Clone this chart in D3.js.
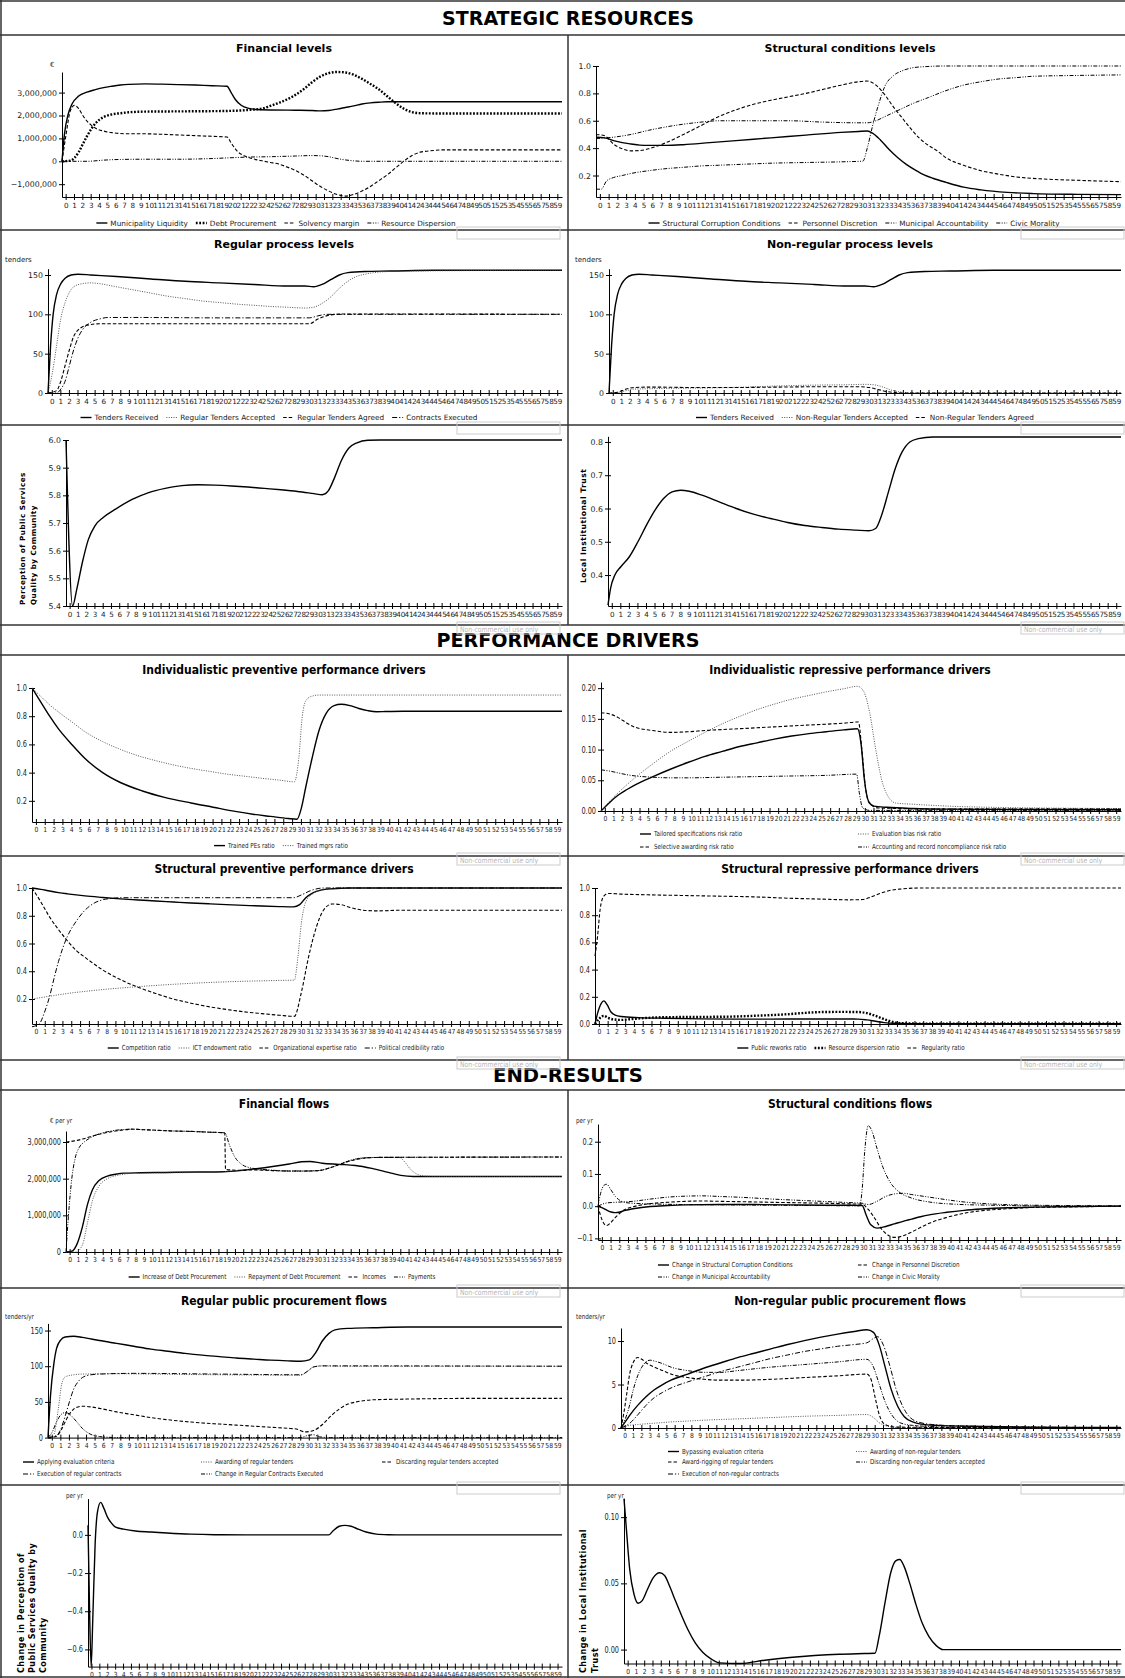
<!DOCTYPE html>
<html>
<head>
<meta charset="utf-8">
<script src="https://cdn.jsdelivr.net/npm/d3@7"></script>
<style>
body { margin: 0; background: #fff; }
svg { display: block; font-family: "DejaVu Sans", Verdana, sans-serif; }
</style>
</head>
<body>
<script>
// period labels on every x axis
var periods = [0,1,2,3,4,5,6,7,8,9,10,11,12,13,14,15,16,17,18,19,20,21,22,23,24,25,26,27,28,29,
  30,31,32,33,34,35,36,37,38,39,40,41,42,43,44,45,46,47,48,49,50,51,52,53,54,55,56,57,58,59];

// ---- STRATEGIC RESOURCES ----
// financial levels, millions of euro, [time, value]
var liquidity = [[0,0],[0.3,1.2],[0.7,2.0],[1.2,2.5],[2,2.85],[3,3.02],[4,3.13],[5,3.22],[6,3.28],[7,3.33],[8,3.36],[10,3.38],[12,3.37],[14,3.35],[16,3.33],[18,3.3],[19.8,3.28],[20.3,3.0],[20.8,2.7],[21.5,2.45],[22.3,2.32],[23.5,2.26],[25,2.24],[28,2.23],[30,2.22],[31,2.2],[32,2.22],[33,2.28],[34,2.35],[35,2.42],[36,2.5],[37,2.55],[38,2.58],[39,2.6],[40,2.6],[60,2.6]];
var debtProc = [[0,0],[1,0.03],[1.5,0.15],[2,0.4],[2.5,0.75],[3,1.1],[3.5,1.4],[4,1.65],[4.5,1.82],[5,1.93],[6,2.05],[7,2.1],[8,2.14],[10,2.17],[14,2.18],[18,2.19],[20,2.2],[22,2.23],[23,2.26],[24,2.3],[25,2.42],[26,2.55],[27,2.7],[28,2.9],[29,3.15],[30,3.45],[31,3.7],[32,3.85],[33,3.9],[34,3.88],[35,3.78],[36,3.6],[37,3.38],[38,3.15],[39,2.85],[40,2.55],[41,2.3],[42,2.15],[43,2.1],[45,2.09],[60,2.09]];
var solvency = [[0,0],[0.5,1.2],[1,2.2],[1.5,2.45],[2,2.3],[2.5,2.0],[3,1.75],[3.5,1.58],[4,1.45],[5,1.32],[6,1.25],[8,1.2],[10,1.2],[12,1.18],[14,1.15],[16,1.12],[18,1.09],[19.8,1.06],[20.3,0.8],[21,0.45],[22,0.22],[23,0.1],[24,0.02],[25,-0.05],[26,-0.12],[27,-0.25],[28,-0.4],[29,-0.6],[30,-0.85],[31,-1.1],[32,-1.3],[33,-1.45],[34,-1.52],[35,-1.45],[36,-1.3],[37,-1.1],[38,-0.85],[39,-0.6],[40,-0.3],[41,0.0],[42,0.25],[43,0.4],[44,0.45],[46,0.5],[60,0.5]];
var resDispersion = [[0,0],[3,0],[5,0.05],[7,0.08],[10,0.09],[14,0.09],[18,0.12],[20,0.15],[22,0.18],[25,0.2],[28,0.23],[30,0.25],[31,0.24],[32,0.2],[33,0.12],[34,0.06],[35,0.02],[36,0],[60,0]];

// structural conditions levels
var corruption = [[0,0.48],[1,0.475],[2,0.455],[3,0.44],[4,0.43],[5,0.422],[6,0.42],[8,0.42],[10,0.425],[13,0.44],[16,0.455],[20,0.475],[24,0.495],[28,0.515],[30,0.522],[31,0.525],[31.6,0.51],[32.5,0.46],[33.5,0.39],[34.5,0.33],[35.5,0.28],[36.5,0.24],[37.5,0.205],[38.5,0.18],[40,0.15],[42,0.115],[44,0.095],[47,0.077],[50,0.068],[55,0.062],[60,0.06]];
var discretion = [[0,0.5],[1,0.49],[2,0.43],[3,0.395],[4,0.38],[5,0.382],[6,0.395],[7,0.415],[8,0.44],[10,0.5],[12,0.565],[14,0.63],[16,0.68],[18,0.72],[20,0.75],[22,0.775],[24,0.8],[26,0.83],[28,0.86],[30,0.885],[31,0.89],[32,0.86],[33,0.79],[34,0.7],[35,0.62],[36,0.54],[37,0.47],[38,0.42],[39,0.38],[40,0.33],[42,0.275],[44,0.235],[46,0.21],[48,0.19],[51,0.175],[55,0.165],[60,0.155]];
var accountability = [[0,0.47],[2,0.48],[4,0.5],[6,0.53],[8,0.555],[10,0.575],[12,0.59],[14,0.6],[18,0.6],[22,0.6],[26,0.59],[30,0.585],[31,0.585],[32,0.6],[33,0.63],[34,0.66],[35,0.69],[36,0.72],[38,0.77],[40,0.82],[42,0.86],[44,0.885],[46,0.905],[48,0.915],[50,0.925],[54,0.93],[60,0.935]];
var morality = [[0,0.1],[0.6,0.1],[1.2,0.16],[2,0.185],[3,0.2],[4,0.215],[6,0.235],[8,0.25],[10,0.26],[12,0.27],[14,0.275],[16,0.28],[18,0.285],[20,0.29],[24,0.295],[28,0.3],[30.5,0.305],[31,0.4],[31.6,0.56],[32.3,0.72],[33,0.85],[34,0.93],[35,0.965],[36,0.985],[37.5,0.995],[40,1.0],[60,1.0]];

// process levels, tenders
var tendersReceived = [[0,0],[0.3,60],[0.6,100],[1,125],[1.5,139],[2,146],[2.7,150],[3.5,151],[5,150],[8,148],[12,145],[16,142],[20,140],[24,138],[28,136],[30,136],[31,135],[32,138],[33,144],[34,150],[35,153],[37,154.5],[40,155],[45,156],[60,156]];
var regAccepted = [[0,0],[0.5,25],[1,60],[1.5,95],[2,115],[2.5,128],[3,135],[4,139],[5,140],[6,139],[8,135],[10,131],[12,127],[14,123],[16,120],[18,117],[20,115],[22,113],[24,111.5],[26,110],[28,109],[30,108],[31,109],[32,114],[33,122],[34,133],[35,142],[36,148],[37,151],[39,154],[42,155],[60,156]];
var regAgreed = [[0,0],[1,3],[1.5,15],[2,35],[2.5,55],[3,72],[3.5,80],[4,84],[5,87],[6,88],[10,88],[20,88],[29,88],[30.5,88],[31.5,94],[32.5,98],[33.5,100],[35,100.5],[60,100]];
var contractsExec = [[0,0],[1,0],[1.5,5],[2,15],[2.5,35],[3,55],[3.5,70],[4,80],[5,90],[6,94],[7,96],[10,96],[20,95.5],[30.5,95.5],[31.5,98],[32.5,100],[60,100]];
var nrAccepted = [[0,0],[1,0.5],[2,3],[3,5],[5,5.5],[8,6],[12,6.5],[16,7.5],[20,9],[24,10],[28,10.5],[30,11],[31,10.5],[32,8],[33,4],[34,1.5],[35,0.5],[36,0],[60,0]];
var nrAgreed = [[0,0],[1,1],[2,5],[3,7],[5,7.5],[10,7],[15,7],[20,7.5],[25,8],[29,8],[30.5,7],[31.5,4.5],[32.5,2],[33.5,0.5],[35,0],[60,0]];

// perception and trust
var perception = [[0,6.0],[0.8,5.4],[1.3,5.46],[2,5.56],[2.7,5.64],[3.5,5.69],[4.5,5.72],[6,5.75],[8,5.785],[10,5.81],[12,5.825],[14,5.835],[16,5.838],[18,5.837],[20,5.834],[22,5.83],[24,5.825],[26,5.82],[28,5.814],[30,5.806],[31,5.802],[31.7,5.815],[32.5,5.865],[33.3,5.925],[34.2,5.97],[35.2,5.99],[36.5,5.999],[38,6.0],[60,6.0]];
var trust = [[0,0.31],[0.3,0.36],[0.8,0.4],[1.5,0.425],[2.5,0.455],[3.5,0.5],[4.5,0.55],[5.5,0.595],[6.5,0.63],[7.5,0.65],[8.5,0.655],[9.5,0.652],[11,0.64],[13,0.62],[15,0.6],[17,0.583],[19,0.57],[21,0.558],[23,0.549],[25,0.543],[27,0.538],[29,0.535],[30.5,0.533],[31.3,0.54],[32,0.58],[32.8,0.65],[33.6,0.72],[34.4,0.77],[35.3,0.8],[36.3,0.81],[38,0.815],[60,0.815]];

// ---- PERFORMANCE DRIVERS ----
var trainedPEs = [[0,1.0],[1,0.9],[2,0.8],[3,0.71],[4.5,0.6],[6,0.5],[8,0.4],[10,0.33],[12.5,0.27],[15,0.225],[18,0.185],[20.5,0.155],[23,0.125],[25,0.105],[27,0.09],[29,0.075],[30,0.07],[30.5,0.15],[31,0.3],[31.7,0.5],[32.5,0.7],[33.3,0.82],[34.2,0.875],[35,0.885],[36,0.875],[37,0.855],[38,0.84],[39,0.832],[40,0.833],[42,0.835],[60,0.835]];
var trainedMgrs = [[0,1.0],[1,0.94],[2,0.88],[3,0.83],[4.5,0.76],[6,0.69],[8,0.62],[10,0.565],[12,0.52],[14,0.485],[16,0.455],[18,0.43],[20,0.41],[22,0.39],[24,0.375],[26,0.36],[28,0.347],[29.7,0.335],[30.2,0.5],[30.6,0.8],[31,0.91],[31.6,0.94],[32.5,0.95],[60,0.95]];
var tailored = [[0,0],[1,0.014],[2,0.026],[3,0.035],[4,0.043],[6,0.056],[8,0.068],[10,0.079],[12,0.089],[14,0.097],[16,0.105],[18,0.111],[20,0.117],[22,0.122],[24,0.126],[26,0.129],[28,0.132],[29.6,0.134],[30,0.11],[30.4,0.05],[30.9,0.015],[31.5,0.008],[33,0.006],[36,0.004],[40,0.003],[60,0.002]];
var evalBias = [[0,0],[1,0.016],[2,0.03],[4,0.055],[6,0.077],[8,0.097],[10,0.113],[12,0.128],[14,0.142],[16,0.154],[18,0.165],[20,0.174],[22,0.182],[24,0.188],[26,0.194],[28,0.199],[29.6,0.203],[30.3,0.195],[31,0.16],[31.7,0.1],[32.4,0.05],[33.2,0.022],[34,0.013],[36,0.011],[40,0.008],[45,0.006],[60,0.004]];
var selectiveAw = [[0,0.16],[1,0.158],[2,0.152],[3,0.143],[4,0.136],[6,0.131],[8,0.128],[10,0.129],[12,0.131],[16,0.134],[20,0.137],[24,0.14],[28,0.143],[29.7,0.145],[30.1,0.1],[30.5,0.04],[31,0.012],[32,0.005],[40,0.003],[60,0.003]];
var accountingNc = [[0,0.067],[1,0.065],[2,0.062],[3,0.059],[4,0.057],[6,0.055],[8,0.054],[10,0.054],[14,0.055],[18,0.056],[22,0.057],[26,0.058],[29.5,0.06],[29.8,0.03],[30.2,0.005],[31,0.001],[60,0.001]];
var competition = [[0,1.0],[1,0.99],[2,0.978],[3,0.967],[4,0.958],[6,0.943],[8,0.932],[10,0.922],[12,0.914],[14,0.906],[16,0.899],[18,0.892],[20,0.886],[22,0.88],[24,0.875],[26,0.87],[28,0.866],[29.6,0.864],[30.3,0.88],[31,0.93],[31.8,0.965],[32.7,0.985],[34,0.995],[36,1.0],[60,1.0]];
var ictEndow = [[0,0.2],[1,0.21],[2,0.22],[4,0.24],[6,0.255],[8,0.268],[10,0.279],[12,0.289],[14,0.298],[16,0.306],[18,0.313],[20,0.319],[22,0.324],[24,0.328],[26,0.331],[28,0.334],[29.7,0.336],[30.1,0.5],[30.5,0.75],[31,0.9],[31.8,0.96],[33,0.99],[35,1.0],[60,1.0]];
var orgExpertise = [[0,1.0],[1,0.9],[2,0.79],[3,0.7],[4,0.62],[5,0.55],[6,0.5],[8,0.41],[10,0.34],[12,0.285],[14,0.24],[16,0.2],[18,0.17],[20,0.145],[22,0.125],[24,0.108],[26,0.095],[28,0.083],[29.7,0.075],[30.5,0.25],[31.3,0.5],[32.2,0.72],[33,0.84],[34,0.885],[35,0.88],[36,0.86],[37.5,0.84],[39,0.835],[42,0.84],[60,0.84]];
var credibility = [[0,0],[0.8,0.02],[1.5,0.12],[2,0.22],[2.5,0.35],[3,0.47],[3.5,0.57],[4,0.65],[5,0.76],[6,0.84],[7,0.89],[8,0.915],[9,0.925],[10,0.93],[20,0.93],[29.6,0.93],[30.5,0.95],[31.5,0.98],[33,1.0],[60,1.0]];
var reworks = [[0,0],[0.3,0.08],[0.7,0.15],[1,0.17],[1.4,0.14],[1.8,0.09],[2.3,0.065],[3,0.055],[5,0.047],[8,0.042],[12,0.038],[16,0.036],[20,0.036],[24,0.037],[28,0.037],[30,0.036],[31,0.03],[32,0.02],[33,0.01],[34,0.005],[36,0.003],[60,0.002]];
var dispersionRatio = [[0,0],[0.5,0.04],[1,0.06],[1.5,0.045],[2,0.035],[3,0.03],[4,0.035],[6,0.045],[8,0.05],[12,0.052],[16,0.055],[18,0.06],[20,0.065],[22,0.072],[24,0.082],[26,0.088],[28,0.089],[30,0.088],[31,0.08],[32,0.06],[33,0.035],[34,0.015],[35,0.006],[37,0.003],[60,0.002]];
var regularity = [[0,0.5],[0.3,0.65],[0.6,0.85],[1,0.94],[1.5,0.96],[3,0.955],[6,0.95],[10,0.945],[14,0.94],[18,0.935],[22,0.925],[26,0.918],[29,0.913],[30.5,0.915],[31.5,0.935],[32.5,0.96],[33.5,0.98],[35,0.993],[37,1.0],[60,1.0]];

// ---- END-RESULTS ----
// financial flows, millions of euro per yr
var debtIncrease = [[0,0],[0.7,0.02],[1.3,0.2],[2,0.7],[2.6,1.3],[3.2,1.7],[4,1.95],[5,2.07],[6,2.12],[7,2.15],[9,2.16],[12,2.17],[16,2.18],[19,2.19],[21,2.22],[23,2.27],[25,2.33],[27,2.4],[28.5,2.46],[29.5,2.47],[31,2.42],[33,2.39],[35,2.36],[37,2.28],[39,2.17],[40.5,2.09],[42,2.06],[60,2.06]];
var debtRepay = [[0,0],[1.2,0],[2,0.2],[2.6,0.8],[3.2,1.4],[4,1.8],[5,2.0],[6,2.08],[7,2.12],[8,2.15],[12,2.16],[16,2.17],[19,2.19],[21,2.22],[22.5,2.25],[24,2.23],[26,2.21],[28,2.2],[30,2.21],[31,2.24],[32,2.3],[33,2.38],[34,2.47],[35,2.54],[36,2.57],[38,2.58],[40.3,2.58],[41,2.45],[41.7,2.25],[42.5,2.12],[43.5,2.07],[45,2.06],[60,2.06]];
var incomes = [[0,3.0],[1,3.03],[2,3.08],[3,3.15],[4,3.21],[5,3.26],[6,3.3],[7,3.33],[8,3.35],[9,3.34],[11,3.32],[13,3.3],[15,3.29],[17,3.27],[19.2,3.25],[19.3,2.25],[21,2.23],[23,2.24],[25,2.22],[27,2.21],[29,2.21],[30.5,2.22],[32,2.3],[33.5,2.42],[35,2.52],[36.5,2.57],[38,2.58],[60,2.59]];
var payments = [[0,0],[0.3,1.0],[0.7,2.0],[1.1,2.55],[1.6,2.85],[2.2,3.0],[3,3.12],[4,3.22],[5,3.28],[6,3.32],[7,3.34],[8,3.35],[9,3.34],[11,3.32],[13,3.3],[15,3.29],[17,3.27],[19.2,3.25],[19.8,2.9],[20.4,2.6],[21.2,2.4],[22.2,2.3],[23.5,2.26],[25,2.23],[27,2.21],[29,2.21],[30.5,2.22],[32,2.3],[33.5,2.43],[35,2.53],[36.5,2.57],[38,2.58],[60,2.59]];
// structural conditions flows, per yr
var dCorruption = [[0,0],[0.5,-0.005],[1,-0.012],[1.5,-0.018],[2,-0.02],[2.5,-0.018],[3,-0.014],[4,-0.008],[5,-0.004],[6,-0.001],[8,0.002],[10,0.004],[14,0.005],[18,0.005],[22,0.004],[26,0.003],[29,0.003],[30.3,0.002],[30.8,-0.03],[31.3,-0.058],[32,-0.068],[33,-0.063],[34,-0.055],[35,-0.047],[36,-0.04],[37,-0.033],[38,-0.027],[40,-0.019],[42,-0.013],[44,-0.009],[47,-0.005],[50,-0.003],[55,-0.001],[60,0]];
var dDiscretion = [[0,0],[0.3,-0.03],[0.7,-0.055],[1,-0.06],[1.5,-0.05],[2,-0.035],[2.5,-0.022],[3,-0.012],[4,-0.002],[5,0.004],[6,0.008],[8,0.012],[10,0.015],[12,0.016],[14,0.015],[18,0.013],[22,0.011],[26,0.009],[29,0.007],[30.3,0.006],[31,-0.01],[31.8,-0.04],[32.5,-0.07],[33.3,-0.09],[34,-0.097],[35,-0.092],[36,-0.08],[37,-0.066],[38,-0.053],[40,-0.035],[42,-0.022],[44,-0.014],[47,-0.008],[50,-0.004],[55,-0.002],[60,0]];
var dAccountability = [[0,0],[1,0.01],[2,0.012],[4,0.015],[6,0.022],[8,0.028],[10,0.031],[12,0.032],[14,0.03],[16,0.028],[20,0.022],[24,0.017],[28,0.012],[30.3,0.009],[31,0.005],[32,0.015],[33,0.03],[34,0.038],[35,0.04],[36,0.036],[38,0.028],[40,0.02],[42,0.013],[45,0.007],[50,0.003],[60,0.001]];
var dMorality = [[0,0],[0.3,0.04],[0.7,0.065],[1,0.068],[1.5,0.05],[2,0.03],[2.5,0.018],[3,0.012],[4,0.009],[6,0.007],[10,0.005],[15,0.004],[20,0.003],[25,0.002],[30,0.001],[30.3,0.05],[30.6,0.17],[31,0.25],[31.4,0.235],[32,0.18],[32.7,0.12],[33.5,0.075],[34.5,0.045],[36,0.025],[38,0.013],[41,0.006],[45,0.003],[50,0.001],[60,0]];
// procurement flows, tenders per yr
var applyingCrit = [[0,0],[0.3,60],[0.7,105],[1,125],[1.5,137],[2,141],[3,142],[4,140.5],[6,136],[8,132],[10,128],[12,124],[14,121],[16,118],[18,115.5],[20,113.5],[22,111.5],[24,110],[26,108.5],[28,107.5],[29.5,107],[30.5,109],[31.3,120],[32,135],[32.8,146],[33.5,151],[35,153],[38,154],[42,155],[60,155]];
var awardingReg = [[0,0],[0.7,5],[1.2,40],[1.6,75],[2,85],[3,88],[4,89],[8,89.5],[12,89],[20,88],[29.5,87.5],[30.3,93],[31,99],[32,100.5],[34,100],[60,100]];
var discardingReg = [[0,0],[1,2],[1.5,10],[2,22],[2.5,33],[3,40],[3.5,43],[4,44],[5,43],[6,41],[8,36],[10,32],[12,28],[14,25],[16,22.5],[18,20.5],[20,19],[22,17.5],[24,16],[26,14.5],[28,13],[29,12],[30,8],[31,10],[32,18],[33,30],[34,40],[35,47],[36,50],[38,53],[42,54],[50,55],[60,55]];
var executionReg = [[0,0],[1,3],[1.5,12],[2,30],[2.5,50],[3,68],[3.5,78],[4,84],[5,88],[6,89],[10,90],[20,89],[29.5,88],[30.3,93],[31,99],[32,100.5],[60,100]];
var changeRegExec = [[0,0],[0.5,8],[1,22],[1.5,32],[2,35],[2.5,33],[3,27],[3.5,20],[4,13],[4.5,8],[5,4.5],[6,1.5],[7,0.5],[8,0],[29.5,0],[30.3,3],[31,4],[31.7,1],[33,0],[60,0]];
var bypassing = [[0,0],[0.5,0.7],[1,1.4],[2,2.6],[3,3.6],[4,4.4],[5,5],[6,5.5],[8,6.2],[10,6.9],[12,7.5],[14,8.1],[16,8.6],[18,9.1],[20,9.6],[22,10.05],[24,10.45],[26,10.8],[28,11.1],[29.5,11.3],[30.3,11.0],[31,9.5],[31.7,7],[32.4,4.5],[33.2,2.5],[34,1.3],[35,0.7],[36,0.45],[38,0.3],[42,0.2],[50,0.1],[60,0.05]];
var awardingNonReg = [[0,0],[1,0.3],[2,0.4],[4,0.55],[6,0.7],[8,0.8],[10,0.9],[14,1.05],[18,1.2],[22,1.35],[26,1.45],[29.5,1.55],[30.3,1.2],[31,0.6],[32,0.2],[33,0.05],[60,0]];
var awardRigging = [[0,0],[0.3,1.5],[0.7,4],[1,6],[1.5,7.6],[2,8.1],[2.5,7.9],[3,7.5],[4,7.0],[5,6.6],[6,6.2],[8,5.8],[10,5.6],[12,5.5],[14,5.5],[18,5.6],[22,5.8],[26,6.0],[29.5,6.2],[30,5.6],[30.5,3.5],[31,1.5],[31.7,0.4],[33,0.1],[60,0]];
var discardingNonReg = [[0,0],[0.5,1],[1,2.5],[1.5,4.5],[2,6],[2.5,7],[3,7.6],[3.5,7.8],[4,7.7],[5,7.4],[6,7],[8,6.6],[10,6.4],[12,6.4],[14,6.6],[18,7.0],[22,7.3],[26,7.6],[29.5,7.9],[30.2,7.2],[31,5],[31.7,3],[32.5,1.5],[33.5,0.6],[35,0.3],[40,0.1],[60,0]];
var executionNonReg = [[0,0],[1,0.5],[2,1.5],[3,2.6],[4,3.5],[5,4.1],[6,4.6],[8,5.3],[10,5.9],[12,6.5],[14,7.0],[16,7.5],[18,8.0],[20,8.4],[22,8.8],[24,9.1],[26,9.4],[28,9.6],[29.5,9.8],[30.3,10.3],[30.8,10.5],[31.5,9.5],[32.3,7],[33,4.5],[33.8,2.5],[34.7,1.2],[36,0.6],[38,0.35],[42,0.2],[50,0.1],[60,0.05]];
// changes in perception and trust, per yr
var dPerception = [[0,0.05],[0.2,-0.4],[0.4,-0.69],[0.6,-0.45],[0.9,-0.05],[1.2,0.12],[1.6,0.17],[2,0.14],[2.5,0.09],[3,0.06],[3.5,0.04],[4.5,0.03],[6,0.02],[8,0.015],[10,0.01],[13,0.004],[16,0.001],[20,0],[30.5,0],[31,0.02],[31.8,0.045],[32.5,0.05],[33.3,0.045],[34.2,0.03],[35.2,0.015],[36.5,0.004],[38,0.001],[40,0],[60,0]];
var dTrust = [[0,0.114],[0.3,0.09],[0.7,0.06],[1.2,0.042],[1.7,0.035],[2.2,0.037],[2.8,0.045],[3.5,0.054],[4.3,0.058],[4.9,0.056],[5.5,0.048],[6.2,0.037],[7,0.025],[7.8,0.014],[8.6,0.005],[9.5,-0.002],[10.5,-0.007],[11.5,-0.01],[14,-0.0105],[17,-0.008],[20,-0.006],[23,-0.0045],[26,-0.0035],[29,-0.003],[30.3,-0.0028],[30.8,0.01],[31.5,0.035],[32.2,0.058],[32.8,0.067],[33.3,0.068],[33.8,0.063],[34.5,0.05],[35.2,0.035],[36,0.02],[36.8,0.01],[37.7,0.003],[38.5,0],[60,0]];

// line styles
var styles = {
  solid:   {w: 1.4, dash: null, c: "#000"},
  boldDot: {w: 2.4, dash: "1.8,1.6", c: "#000"},
  dash:    {w: 1.1, dash: "3.5,2", c: "#000"},
  dot:     {w: 0.9, dash: "1,1.4", c: "#444"},
  dashDotDot: {w: 1, dash: "4,1.5,1,1.5,1,1.5", c: "#000"},
  dashDot: {w: 1, dash: "5,2,1.2,2", c: "#000"}
};

var euro = function(v) { return d3.format(",")(Math.round(v * 1e6)); };
var f1 = d3.format(".1f"), f2 = d3.format(".2f"), f0 = d3.format("d");

var panels = [
  {x: 0, y: 35, ax: 62, yt: 37, yb: 162, yd: [-1.56, 3.9], ticks: [-1, 0, 1, 2, 3], fmt: euro,
   title: "Financial levels", ty: 13, unit: ["€", 50, 30],
   series: [[liquidity, "Municipality Liquidity", "solid"], [debtProc, "Debt Procurement", "boldDot"],
            [solvency, "Solvency margin", "dash"], [resDispersion, "Resource Dispersion", "dashDotDot"]],
   legend: {cx: 276, y: 188}},
  {x: 568, y: 35, ax: 28, yt: 31, yb: 162, yd: [0.043, 1.0], ticks: [0.2, 0.4, 0.6, 0.8, 1.0], fmt: f1,
   title: "Structural conditions levels", ty: 13,
   series: [[corruption, "Structural Corruption Conditions", "solid"], [discretion, "Personnel Discretion", "dash"],
            [accountability, "Municipal Accountability", "dashDotDot"], [morality, "Civic Morality", "dashDotDot"]],
   legend: {cx: 286, y: 188}},
  {x: 0, y: 230, ax: 48, yt: 38.7, yb: 163, yd: [0, 158], ticks: [0, 50, 100, 150], fmt: f0,
   title: "Regular process levels", ty: 14, unit: ["tenders", 5, 30],
   series: [[tendersReceived, "Tenders Received", "solid"], [regAccepted, "Regular Tenders Accepted", "dot"],
            [regAgreed, "Regular Tenders Agreed", "dash"], [contractsExec, "Contracts Executed", "dashDot"]],
   legend: {cx: 279, y: 187.5}},
  {x: 568, y: 230, ax: 41, yt: 38.7, yb: 163, yd: [0, 158], ticks: [0, 50, 100, 150], fmt: f0,
   title: "Non-regular process levels", ty: 14, unit: ["tenders", 7, 30],
   series: [[tendersReceived, "Tenders Received", "solid"], [nrAccepted, "Non-Regular Tenders Accepted", "dot"],
            [nrAgreed, "Non-Regular Tenders Agreed", "dash"]],
   legend: {cx: 297, y: 187.5}},
  {x: 0, y: 425, ax: 66, yt: 15, yb: 181, yd: [5.4, 6.0], ticks: [5.4, 5.5, 5.6, 5.7, 5.8, 5.9, 6.0], fmt: f1,
   ytitle: {lines: ["Perception of Public Services", "Quality by Community"], xs: [25, 36], by: 180, fs: 7.2},
   series: [[perception, "Perception", "solid"]]},
  {x: 568, y: 425, ax: 40, yt: 11.3, yb: 181, yd: [0.307, 0.817], ticks: [0.4, 0.5, 0.6, 0.7, 0.8], fmt: f1,
   ytitle: {lines: ["Local Institutional Trust"], xs: [18], by: 158, fs: 7.6},
   series: [[trust, "Trust", "solid"]]},

  {x: 0, y: 655, ax: 32, yt: 33, yb: 167, yd: [0.05, 1.0], ticks: [0.2, 0.4, 0.6, 0.8, 1.0], fmt: f1, cond: true,
   title: "Individualistic preventive performance drivers", ty: 15,
   series: [[trainedPEs, "Trained PEs ratio", "solid"], [trainedMgrs, "Trained mgrs ratio", "dot"]],
   legend: {cx: 281, y: 190.6}},
  {x: 568, y: 655, ax: 33, yt: 27, yb: 156, yd: [0, 0.21], ticks: [0, 0.05, 0.1, 0.15, 0.2], fmt: f2, cond: true,
   title: "Individualistic repressive performance drivers", ty: 15,
   series: [[tailored, "Tailored specifications risk ratio", "solid"], [evalBias, "Evaluation bias risk ratio", "dot"],
            [selectiveAw, "Selective awarding risk ratio", "dash"], [accountingNc, "Accounting and record noncompliance risk ratio", "dashDotDot"]],
   legend: {cols: [72, 290], rows: [179, 192], items: [[0, 1], [2, 3]]}},
  {x: 0, y: 856, ax: 32, yt: 32, yb: 168, yd: [0.02, 1.0], ticks: [0.2, 0.4, 0.6, 0.8, 1.0], fmt: f1, cond: true,
   title: "Structural preventive performance drivers", ty: 13,
   series: [[competition, "Competition ratio", "solid"], [ictEndow, "ICT endowment ratio", "dot"],
            [orgExpertise, "Organizational expertise ratio", "dash"], [credibility, "Political credibility ratio", "dashDot"]],
   legend: {cx: 276, y: 192}},
  {x: 568, y: 856, ax: 27, yt: 32, yb: 168, yd: [0, 1.0], ticks: [0, 0.2, 0.4, 0.6, 0.8, 1.0], fmt: f1, cond: true,
   title: "Structural repressive performance drivers", ty: 13,
   series: [[reworks, "Public reworks ratio", "solid"], [dispersionRatio, "Resource dispersion ratio", "boldDot"],
            [regularity, "Regularity ratio", "dash"]],
   legend: {cx: 283, y: 192}},

  {x: 0, y: 1090, ax: 66, yt: 41, yb: 162, yd: [0, 3.3], ticks: [0, 1, 2, 3], fmt: euro, cond: true,
   title: "Financial flows", ty: 14, unit: ["€ per yr", 50, 31],
   series: [[debtIncrease, "Increase of Debt Procurement", "solid"], [debtRepay, "Repayment of Debt Procurement", "dot"],
            [incomes, "Incomes", "dash"], [payments, "Payments", "dashDotDot"]],
   legend: {cx: 282, y: 187}},
  {x: 568, y: 1090, ax: 30, yt: 34, yb: 150, yd: [-0.105, 0.255], ticks: [-0.1, 0, 0.1, 0.2], fmt: f1, cond: true,
   title: "Structural conditions flows", ty: 14, unit: ["per yr", 8, 31],
   series: [[dCorruption, "Change in Structural Corruption Conditions", "solid"], [dDiscretion, "Change in Personnel Discretion", "dash"],
            [dAccountability, "Change in Municipal Accountability", "dashDotDot"], [dMorality, "Change in Civic Morality", "dashDotDot"]],
   legend: {cols: [90, 290], rows: [175, 187], items: [[0, 1], [2, 3]]}},
  {x: 0, y: 1288, ax: 48, yt: 35.4, yb: 149.6, yd: [0, 160], ticks: [0, 50, 100, 150], fmt: f0, cond: true,
   title: "Regular public procurement flows", ty: 13, unit: ["tenders/yr", 5, 29],
   series: [[applyingCrit, "Applying evaluation criteria", "solid"], [awardingReg, "Awarding of regular tenders", "dot"],
            [discardingReg, "Discarding regular tenders accepted", "dash"], [executionReg, "Execution of regular contracts", "dashDot"],
            [changeRegExec, "Change in Regular Contracts Executed", "dashDotDot"]],
   legend: {cols: [23, 201, 382], rows: [174, 186], items: [[0, 1, 2], [3, 4]]}},
  {x: 568, y: 1288, ax: 53, yt: 40, yb: 140, yd: [0, 11.5], ticks: [0, 5, 10], fmt: f0, cond: true,
   title: "Non-regular public procurement flows", ty: 13, unit: ["tenders/yr", 8, 29],
   series: [[bypassing, "Bypassing evaluation criteria", "solid"], [awardingNonReg, "Awarding of non-regular tenders", "dot"],
            [awardRigging, "Award-rigging of regular tenders", "dash"], [discardingNonReg, "Discarding non-regular tenders accepted", "dashDotDot"],
            [executionNonReg, "Execution of non-regular contracts", "dashDot"]],
   legend: {cols: [100, 288], rows: [163.5, 174, 186], items: [[0, 1], [2, 3], [4]]}},
  {x: 0, y: 1485, ax: 88, yt: 13.6, yb: 181.6, yd: [-0.69, 0.19], ticks: [-0.6, -0.4, -0.2, 0], fmt: f1, cond: true,
   unit: ["per yr", 66, 10.5],
   ytitle: {lines: ["Change in Perception of", "Public Services Quality by", "Community"], xs: [24, 35, 46], by: 188, fs: 8},
   series: [[dPerception, "Change in Perception", "solid"]]},
  {x: 568, y: 1485, ax: 56, yt: 13.6, yb: 178.5, yd: [-0.0105, 0.114], ticks: [0, 0.05, 0.1], fmt: f2, cond: true,
   unit: ["per yr", 39, 10.5],
   ytitle: {lines: ["Change in Local Institutional", "Trust"], xs: [18, 30], by: 188, fs: 8},
   series: [[dTrust, "Change in Trust", "solid"]]}
];

var svg = d3.select("body").append("svg").attr("width", 1125).attr("height", 1678);
svg.append("rect").attr("width", 1125).attr("height", 1678).attr("fill", "#fff");

// squeeze text horizontally to mimic the narrow font of the lower sections
function squeeze(sel, k) {
  sel.each(function() {
    var w = this.getComputedTextLength();
    if (w > 0) d3.select(this).attr("textLength", w * k).attr("lengthAdjust", "spacingAndGlyphs");
  });
}

function drawPanel(p) {
  var g = svg.append("g").attr("transform", "translate(" + p.x + "," + p.y + ")");
  var k = p.cond ? 0.8 : 1;
  var plotRight = p.x == 0 ? 562 : 1121 - p.x;
  var x = d3.scaleLinear().domain([0, 60]).range([p.ax, plotRight]);
  var xb = d3.scaleBand().domain(periods).range([p.ax, plotRight]);
  var y = d3.scaleLinear().domain(p.yd).range([p.yb, p.yt]);

  if (p.title) {
    var t = g.append("text").attr("x", p.x == 0 ? 284 : 282).attr("y", p.ty).attr("dy", "0.35em")
      .attr("text-anchor", "middle").attr("font-weight", "bold")
      .attr("font-size", p.cond ? 12 : 11).text(p.title);
    if (p.cond) squeeze(t, 0.9);
  }
  if (p.unit) {
    var u = g.append("text").attr("x", p.unit[1]).attr("y", p.unit[2]).attr("dy", "0.35em")
      .attr("font-size", 7).attr("fill", "#222").text(p.unit[0]);
    if (p.cond) squeeze(u, k);
  }
  if (p.ytitle) {
    p.ytitle.lines.forEach(function(l, i) {
      g.append("text").attr("transform", "translate(" + p.ytitle.xs[i] + "," + p.ytitle.by + ") rotate(-90)")
        .attr("font-size", p.ytitle.fs).attr("font-weight", "bold").attr("letter-spacing", 0.5).text(l);
    });
  }

  // x axis
  var xa = g.append("g").attr("transform", "translate(0," + p.yb + ")")
    .call(d3.axisBottom(xb).tickSize(0).tickPadding(0));
  xa.selectAll(".tick line").attr("y1", -3).attr("y2", 3).attr("stroke", "#000");
  xa.select(".domain").attr("stroke", "#000");
  xa.selectAll("text").attr("y", 5.5).attr("dy", "0.71em").attr("font-size", p.cond ? 7 : 7.2)
    .attr("font-family", "DejaVu Sans, sans-serif").attr("fill", "#222");
  if (p.cond) squeeze(xa.selectAll("text"), 0.86);

  // y axis
  var ya = g.append("g").attr("transform", "translate(" + p.ax + ",0)")
    .call(d3.axisLeft(y).tickValues(p.ticks).tickFormat(p.fmt).tickSize(0).tickPadding(0));
  ya.selectAll(".tick line").attr("x1", -3).attr("x2", 3).attr("stroke", "#000");
  ya.select(".domain").attr("stroke", "#000");
  ya.selectAll("text").attr("x", -5).attr("font-size", p.cond ? 8 : 7.8)
    .attr("font-family", "DejaVu Sans, sans-serif").attr("fill", "#222");
  if (p.cond) squeeze(ya.selectAll("text"), 0.82);

  // series
  var line = d3.line().x(function(d) { return x(d[0]); }).y(function(d) { return y(d[1]); })
    .curve(d3.curveMonotoneX);
  p.series.forEach(function(s) {
    var st = styles[s[2]];
    g.append("path").datum(s[0]).attr("d", line).attr("fill", "none")
      .attr("stroke", st.c).attr("stroke-width", st.w).attr("stroke-dasharray", st.dash);
  });

  if (p.legend) drawLegend(g, p, k);
}

function legendItem(gg, s, x0, y0, k, cond) {
  var st = styles[s[2]];
  gg.append("line").attr("x1", x0).attr("x2", x0 + 11).attr("y1", y0).attr("y2", y0)
    .attr("stroke", st.c).attr("stroke-width", st.w).attr("stroke-dasharray", st.dash);
  var t = gg.append("text").attr("x", x0 + 14).attr("y", y0).attr("dy", "0.35em")
    .attr("font-size", cond ? 7 : 7.3).attr("fill", "#222").text(s[1]);
  var w = t.node().getComputedTextLength();
  if (cond) squeeze(t, k);
  return 14 + w * k;
}

function drawLegend(g, p, k) {
  var L = p.legend;
  if (L.items) {
    L.items.forEach(function(row, ri) {
      row.forEach(function(si, ci) { legendItem(g, p.series[si], L.cols[ci], L.rows[ri], k, p.cond); });
    });
  } else {
    var lg = g.append("g"), xx = 0;
    p.series.forEach(function(s) { xx += legendItem(lg, s, xx, L.y, k, p.cond) + 8; });
    xx -= 8;
    lg.attr("transform", "translate(" + (L.cx - xx / 2) + ",0)");
  }
}

panels.forEach(drawPanel);

// section headers
var headers = [["STRATEGIC RESOURCES", 18, 0], ["PERFORMANCE DRIVERS", 640, 263], ["END-RESULTS", 1075, 150]];
headers.forEach(function(h) {
  var t = svg.append("text").attr("x", 568).attr("y", h[1]).attr("dy", "0.36em").attr("text-anchor", "middle")
    .attr("font-size", 19).attr("font-weight", "bold").text(h[0]);
  if (h[2]) t.attr("textLength", h[2]).attr("lengthAdjust", "spacingAndGlyphs");
});

// frame lines
var hLines = [1, 35, 230, 425, 625, 655, 856, 1060, 1090, 1288, 1485, 1677];
svg.selectAll("line.hsep").data(hLines).enter().append("line").attr("class", "hsep")
  .attr("x1", 0).attr("x2", 1125).attr("y1", function(d) { return d; }).attr("y2", function(d) { return d; })
  .attr("stroke", "#333").attr("stroke-width", 1.5);
var vLines = [[1, 0, 1678], [568, 35, 625], [568, 655, 1060], [568, 1090, 1678]];
svg.selectAll("line.vsep").data(vLines).enter().append("line").attr("class", "vsep")
  .attr("x1", function(d) { return d[0]; }).attr("x2", function(d) { return d[0]; })
  .attr("y1", function(d) { return d[1]; }).attr("y2", function(d) { return d[2]; })
  .attr("stroke", "#333").attr("stroke-width", 1.5);

// watermark boxes [x, boundary y, with text], text just under the boundary line
var badges = [[457, 230, 0], [1021, 230, 0], [457, 425, 0], [1021, 425, 0], [457, 625, 1], [1021, 625, 1],
  [457, 856, 1], [1021, 856, 1], [457, 1060, 1], [1021, 1060, 1], [457, 1288, 1], [1021, 1288, 0],
  [457, 1485, 0], [1021, 1485, 0]];
badges.forEach(function(b) {
  svg.append("rect").attr("x", b[0]).attr("y", b[1] - 3).attr("width", 103).attr("height", 12)
    .attr("fill", "none").attr("stroke", "#ccc").attr("stroke-width", 1);
  if (b[2]) {
    var t = svg.append("text").attr("x", b[0] + 3).attr("y", b[1] + 4.5).attr("dy", "0.35em")
      .attr("font-size", 7.5).attr("fill", "#b8b8b8").text("Non-commercial use only");
    squeeze(t, 0.82);
  }
});
</script>
</body>
</html>
